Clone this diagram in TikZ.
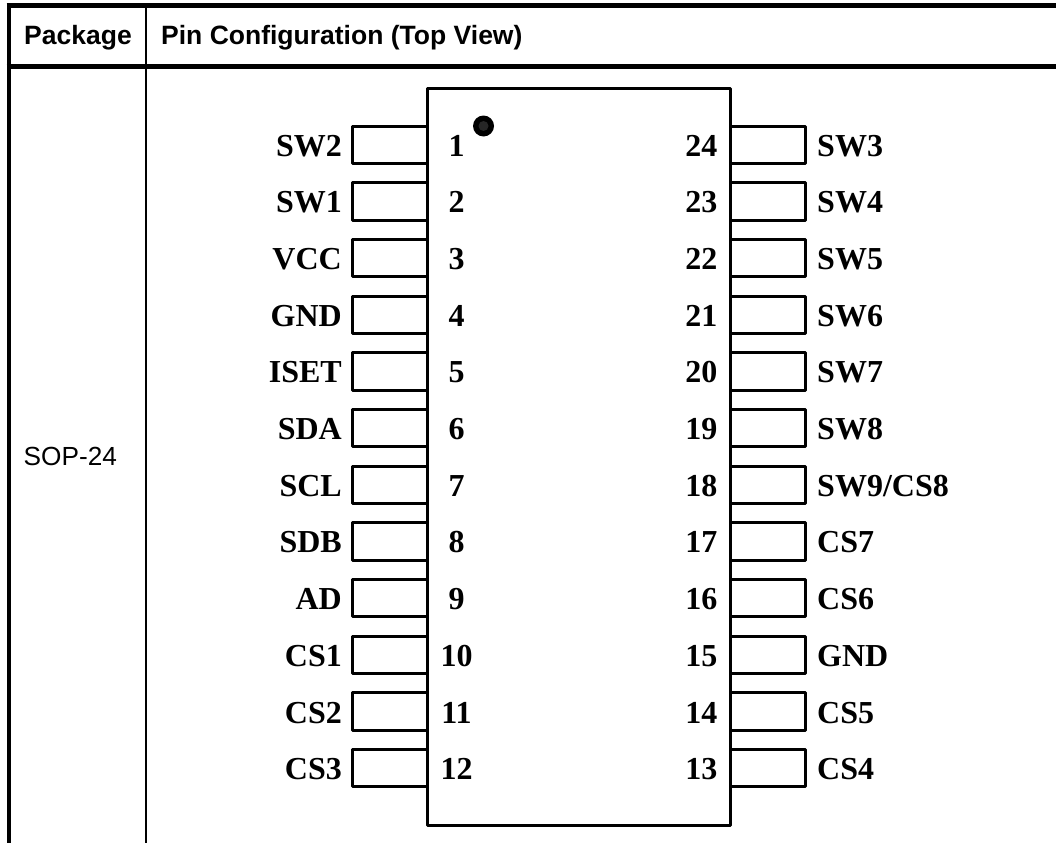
\documentclass[tikz,border=0pt]{standalone}
\usepackage{fontspec}
\setmainfont{Liberation Serif}
\newfontfamily\hdrfont{Liberation Sans}
\tikzset{
  x=1pt,y=-1pt,
  heavyrule/.style={line width=4.5pt,black},
  thinrule/.style={line width=2pt,black},
  chipline/.style={line width=3pt,black,line join=round},
  pinbox/.style={chipline,fill=white},
  pinlabel/.style={inner sep=0pt,font=\fontsize{32}{32}\selectfont\bfseries},
  hdr/.style={inner sep=0pt,anchor=base west,font=\hdrfont\fontsize{26.5}{27}\selectfont\bfseries},
  pkg/.style={inner sep=0pt,anchor=base west,font=\hdrfont\fontsize{26.2}{27}\selectfont},
}
\begin{document}
\begin{tikzpicture}
\useasboundingbox (0,0) rectangle (1056,843);
% table rules
\coordinate (tl) at (6.5,5.7); \coordinate (tr) at (1056,5.7);
\coordinate (hl) at (6.5,66.7); \coordinate (hr) at (1056,66.7);
\coordinate (ll) at (8.8,3.4); \coordinate (lb) at (8.8,843);
\coordinate (mt) at (146,5.7); \coordinate (mb) at (146,843);
\draw[thinrule] (mt) -- (mb);
\draw[heavyrule] (tl) -- (tr);
\draw[heavyrule] (hl) -- (hr);
\draw[heavyrule] (ll) -- (lb);
% headers
\node[hdr] (hpkg) at (24,44.3) {Package};
\node[hdr] (hcfg) at (161,44.3) {Pin Configuration (Top View)};
\node[pkg] (sop) at (23.5,465.7) {SOP-24};
% pins (behind the chip outline)
\foreach \i/\lab/\j/\rlab in {
  1/SW2/24/SW3, 2/SW1/23/SW4, 3/VCC/22/SW5, 4/GND/21/SW6,
  5/ISET/20/SW7, 6/SDA/19/SW8, 7/SCL/18/SW9\slash CS8, 8/SDB/17/CS7,
  9/AD/16/CS6, 10/CS1/15/GND, 11/CS2/14/CS5, 12/CS3/13/CS4}{
  \pgfmathsetmacro{\yt}{126+(\i-1)*56.68}
  \pgfmathsetmacro{\yb}{\yt+37.4}
  \pgfmathsetmacro{\yl}{\yt+30.2}
  \draw[pinbox] (427.5,\yt) -- (352.5,\yt) -- (352.5,\yb) -- (427.5,\yb);
  \draw[pinbox] (730,\yt) -- (805.5,\yt) -- (805.5,\yb) -- (730,\yb);
  \node[pinlabel,anchor=base east] (ln\i) at (342,\yl) {\lab};
  \node[pinlabel,anchor=base] (pn\i) at (456.5,\yl) {\i};
  \node[pinlabel,anchor=base east] (pn\j) at (717.5,\yl) {\j};
  \node[pinlabel,anchor=base west] (rn\j) at (817,\yl) {\rlab};
}
% chip body
\draw[chipline] (427.5,88) rectangle (730,825);
% pin 1 marker
\fill[black] (483.5,126) circle (10.5);
\fill[black!85] (483.5,126) circle (5);
\end{tikzpicture}
\end{document}
